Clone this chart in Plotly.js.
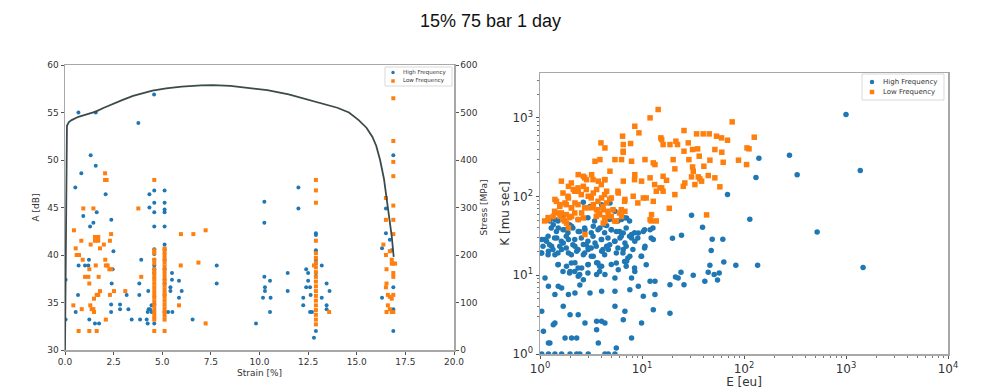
<!DOCTYPE html>
<html>
<head>
<meta charset="utf-8">
<script src="https://cdn.plot.ly/plotly-3.0.1.min.js"></script>
<style>html,body{margin:0;padding:0;background:#fff;}#chart{width:981px;height:389px;}</style>
</head>
<body>
<div id="chart"></div>
<script>
// ---------- Left chart: amplitude vs strain ----------
const hfStrain = [0.03,0.03,0.69,1.58,4.58,3.77,1.32,1.58,0.84,0.53,0.94,1.63,1.46,1.29,2.09,2.38,2.49,0.70,1.03,1.20,1.23,2.45,2.40,0.67,0.55,1.25,1.54,1.75,2.37,2.37,2.83,2.83,3.17,3.26,3.43,3.86,3.82,3.82,3.92,4.20,4.25,4.30,4.25,4.28,4.34,4.34,
  4.59,4.59,4.59,4.59,4.59,4.59,4.59,4.59,4.59,4.59,4.59,4.59,4.45,4.37,4.45,
  5.12,5.12,5.12,5.12,5.12,5.12,5.12,5.12,5.12,5.12,5.12,5.12,5.12,
  5.30,5.52,5.42,5.50,5.50,5.42,5.86,5.86,6.00,6.56,7.80,7.80,9.82,10.25,10.25,10.25,10.28,10.28,10.54,10.18,10.57,10.54,11.45,11.45,12.00,12.00,12.25,12.25,12.40,12.50,12.50,12.40,12.60,12.63,12.60,12.70,12.80,
  12.90,12.90,12.90,12.90,12.90,12.90,12.90,12.90,13.20,13.20,13.45,13.60,13.45,13.45,16.30,16.30,16.50,16.50,16.70,16.80,16.88,16.88,16.88,16.88];
const hfAmp = [37.4,33.2,55.0,55.0,56.9,53.9,50.5,49.4,48.6,47.1,44.1,44.5,43.4,43.0,46.4,43.7,40.4,38.9,38.9,38.9,39.5,38.5,37.0,35.8,34.0,33.2,32.8,32.8,34.8,34.0,34.8,34.3,35.8,34.3,33.2,33.2,37.0,35.8,39.5,33.2,32.8,34.3,34.0,36.2,45.0,46.4,
  46.8,45.5,44.5,43.0,40.6,40.1,39.5,38.9,38.5,38.1,34.8,32.8,34.7,34.3,34.0,
  46.8,45.5,44.8,44.5,43.0,41.1,40.6,39.5,38.5,37.4,37.0,35.8,34.0,
  34.0,34.0,36.6,38.1,37.4,36.2,37.3,35.5,36.2,33.2,38.9,37.0,32.8,45.6,43.4,37.7,36.6,36.2,37.3,35.5,35.5,34.0,38.1,36.2,47.1,44.9,35.5,34.7,38.5,38.1,37.3,36.6,36.6,35.8,34.0,34.0,31.3,
  42.3,42.1,40.5,40.4,39.5,39.1,38.1,32.0,38.9,35.5,37.0,36.2,34.7,34.3,35.5,40.7,44.9,42.3,41.6,40.5,50.5,36.6,34.3,32.0];

const lfStrain = [0.46,0.43,0.55,0.60,0.72,0.70,0.84,0.91,0.94,0.86,1.03,1.20,1.25,1.25,1.25,1.32,1.30,1.37,1.46,1.49,1.46,1.49,1.63,1.71,1.54,1.71,1.54,1.71,1.58,1.63,1.73,1.80,1.80,2.06,2.06,2.14,2.00,2.07,2.10,2.19,2.28,2.10,2.37,2.31,2.37,2.31,2.52,3.10,3.77,3.92,
  4.59,4.59,4.59,4.59,4.59,4.59,4.59,4.59,4.59,4.59,4.59,4.59,4.59,4.59,4.59,4.59,4.59,4.59,4.59,4.59,4.59,
  5.12,5.12,5.12,5.12,5.12,5.12,5.12,5.12,5.12,5.12,5.12,5.12,5.12,5.12,5.12,5.12,5.12,5.12,5.12,5.12,5.12,
  5.96,6.60,7.23,6.86,5.95,5.86,7.23,
  12.9,12.9,12.9,12.9,12.9,12.9,12.9,12.9,12.9,12.9,12.9,12.9,12.9,12.9,12.9,12.9,12.9,12.9,12.9,12.9,
  12.8,13.58,
  16.88,16.88,16.88,16.88,16.88,16.88,16.88,16.88,16.88,16.88,16.88,
  16.5,16.5,16.37,16.5,16.7,16.8,16.88,16.8,16.97,16.53,16.53,16.5,16.6,16.7,16.8,16.6,16.7,16.53,16.8];
const lfAmp = [42.6,34.7,40.7,40.0,40.0,32.0,41.5,39.5,44.9,34.3,37.7,37.7,37.0,32.0,38.5,41.1,34.7,34.3,34.3,34.0,44.9,35.4,35.8,35.8,41.9,41.9,41.5,41.5,38.9,32.0,37.7,40.7,36.2,48.6,47.9,47.9,41.1,39.5,38.9,38.9,38.5,33.2,42.2,41.5,38.5,35.8,36.2,36.2,44.9,37.7,
  47.9,40.5,40.2,39.5,39.1,38.5,38.1,37.7,37.4,37.0,36.6,36.2,35.8,35.5,35.1,34.7,34.3,33.9,33.5,33.2,32.0,
  40.7,40.3,40.0,39.6,39.2,38.8,38.4,38.0,37.6,37.2,36.8,36.4,36.0,35.6,35.2,34.8,34.4,34.0,33.6,33.2,32.0,
  42.2,42.2,42.6,39.2,38.9,34.7,32.8,
  47.9,46.8,45.5,41.5,40.2,39.7,39.2,38.7,38.2,37.7,37.2,36.7,36.2,35.7,35.2,34.7,34.2,33.7,33.2,32.7,
  38.9,34.0,
  56.5,52.0,49.8,48.3,45.2,43.7,42.2,38.1,37.7,35.8,34.0,
  46.0,43.7,41.1,40.0,40.4,39.5,39.1,39.1,39.1,38.5,37.0,36.6,35.8,35.6,35.4,34.7,34.3,34.0,34.0];

const curveStrain = [0,0.03,0.06,0.10,0.20,0.34,0.69,1.0,1.58,2.0,2.5,3.0,3.5,4.0,4.5,5.2,6.0,7.0,7.6,8.5,9.5,10.4,11.5,12.9,14.0,14.6,15.1,15.5,15.8,16.0,16.2,16.4,16.6,16.8,16.9];
const curveStress = [0,200,420,472,480,484,491,495,502,510,519,527,535,541,546,551,554.5,557,557.5,556,552,547,538,523,510,500,484,468,449,430,400,360,300,239,196];

// ---------- Right chart: K vs E ----------
const hfE = [2.66,3.09,4.02,4.85,5.43,6.3,7.06,1.40,1.25,1.35,1.51,1.76,2.04,2.37,2.76,3.33,3.87,4.5,5.0,5.6,6.55,7.9,9.2,10.3,12.0,
  1.04,1.16,1.30,1.46,1.69,1.90,2.2,2.66,2.97,3.46,4.02,4.5,5.43,6.08,6.8,7.9,8.5,10.7,12.9,
  1.04,1.21,1.40,1.63,1.90,2.29,2.66,2.97,3.33,4.02,4.67,5.6,6.55,7.6,9.9,
  1.51,1.82,1.97,2.2,2.56,2.97,3.59,4.02,5.0,5.85,7.06,8.5,
  1.12,1.21,2.37,2.66,2.46,3.59,4.33,5.43,7.9,12.0,13.4,
  1.51,1.63,1.40,1.90,2.2,3.09,4.02,5.43,7.6,9.2,10.3,13.4,
  1.04,1.69,1.97,2.37,2.76,3.59,4.02,4.33,5.43,6.55,6.8,9.9,12.9,
  1.08,1.35,1.40,1.25,1.21,1.76,2.04,2.29,3.59,3.73,5.6,7.9,
  1.04,1.21,1.40,1.63,1.97,2.29,2.46,2.97,4.33,4.67,5.43,
  140,279,332,131,68.9,30.6,39.2,114,521,19.9,24.4,48.8,62,47.7,46.3,63.4,83.2,136,24.1,21.3,22.6,31.8,44.6,51,57.1,55,18.8,25.8,41.3,
  18.8,1000,1380,1470,
  1.50,1.68,1.95,2.36,2.95,3.43,4.30,4.82,5.81,6.75,7.55,
  1.29,1.45,1.68,1.88,2.10,2.45,2.74,3.18,3.70,4.30,5.0,6.03,7.0,8.45,10.6,12.8,
  1.11,1.20,1.39,1.62,1.81,2.19,2.54,2.95,3.31,3.99,4.64,5.39,6.26,7.55,9.1,12.3,
  1.07,1.24,1.34,1.56,1.81,2.10,2.36,2.84,3.18,3.56,4.14,4.82,5.81,7.0,8.14,10.6,
  1.03,1.20,1.50,2.03,2.74,3.18,4.30,6.5,7.27,9.8,
  1.50,2.03,2.36,2.95,3.70,3.84,5.6,6.75,7.0,8.45,11.0,
  1.68,1.95,2.19,2.45,2.95,3.84];
const hfK = [84.7,75,79,83,65,51,53.5,51,49,44,40,38,42,36,38,42,40,43,38,36,34.5,33,34.5,36,38,
  28.4,27,23.4,29.8,25.7,28.4,23.4,24.6,22.3,25.7,28.4,23.4,27,29.8,25.7,29.8,27,23.4,28.4,
  19.2,20.2,18.3,21.2,19.2,20.2,18.3,21.2,17.4,20.2,21.2,19.2,21.2,17.4,17.4,
  13.7,13.0,11.2,14.4,12.4,13.7,14.4,13.0,13.7,11.8,15.1,11.2,
  9.25,7.25,9.7,8.8,7.5,10.2,10.2,9.25,9.25,8.4,8.4,
  7.25,6.9,5.7,5.7,5.96,5.96,6.26,6.26,6.57,7.25,5.4,5.7,
  3.49,4.04,3.16,3.16,2.48,2.6,2.6,2.48,4.04,2.73,3.49,2.48,3.66,
  1.94,2.36,2.48,1.38,1.38,1.6,1.6,1.6,2.04,1.38,1.19,1.6,
  1,1,1,1,1,1,1,1,1,1,1,
  307,335,190,175,106,58,40.7,51.5,35.5,29.5,32.2,28.7,28.7,20.6,13.4,14.8,13.4,13.4,10.9,9.5,9.25,10,10.9,10.2,10.7,8.7,7.6,7.6,8.4,
  3.3,1100,215,12.6,
  49,54,44,51,54,49,44,51,49,54,49,
  40,36,38,34.6,40,36,40,34.6,38,34.6,38,36,40,34.6,38,40,
  28.4,31.3,29.8,27,31.3,28.4,29.8,27,31.3,28.4,29.8,27,31.3,31.3,29.8,29.8,
  23.3,24.5,21.2,23.3,22.2,24.5,21.2,24.5,22.2,23.3,21.2,24.5,22.2,23.3,21.2,22.2,
  19.2,18.3,19.2,18.3,19.2,17.4,18.3,19.2,16.6,17.4,
  13.6,14.3,12.4,13.6,14.3,13.0,14.3,15.0,13.0,12.4,13.6,
  11.2,10.7,11.2,10.2,10.7,11.2];

const lfE = [3.46,3.87,5.43,6.3,7.9,10.7,12.9,13.4,6.55,
  2.37,2.66,2.86,3.21,3.73,4.33,4.85,6.55,8.5,9.9,12.0,
  1.9,2.12,2.37,2.66,2.97,3.33,3.59,4.02,4.5,5.0,5.85,6.8,8.2,10.3,12.9,15.0,
  1.40,1.57,1.76,1.9,2.04,2.2,2.56,2.97,3.33,3.59,3.73,4.17,4.5,5.0,5.6,6.8,
  1.21,1.35,1.46,1.57,1.69,1.82,1.9,2.04,2.37,2.66,2.76,4.17,4.33,4.67,6.3,12.0,12.4,
  14.4,12.0,8.5,9.33,6.45,3.96,4.33,6.55,7.73,6.55,15.3,16.1,
  76.6,126,25.8,34.3,39.8,45.6,53.8,60.2,68.9,107,112,15.6,18.8,21.5,22.3,28.4,31.3,35.1,25.8,51.8,60.6,20.2,28.8,36.4,46.3,40.4,31.3,62.5,88.3,106,16.1,17.4,21,30.6,35.6,38.4,44.6,51.8,31.8,25.4,26.3,15.6,16.1,21,33,36.9,58,18.5,43,
  1.62,2.03,2.36,2.74,3.31,3.99,4.30,1.68,1.88,2.19,2.54,2.84,3.18,3.70,4.30,4.82,5.81,6.75,1.45,1.56,1.81,2.03,2.36,2.74,3.31,3.70,4.14,4.64,5.19,
  1.39,1.62,1.81,1.95,2.19,3.56,3.84,4.30,5.39,1.11,1.20,1.74,12.3,13.8,8.45,11.0,13.3,13.8,9.1,6.03,6.26];
const lfK = [281,295,295,295,281,295,268,255,377,
  190,181,164,190,157,164,210,157,190,157,173,
  135,123,117,135,101,111,123,96,117,96,111,92,101,96,87,129,
  92,79,83,96,72,83,62,72,79,68,59,68,83,56,48.5,65,
  51,56,62,56,51,46,40,56,51,53.5,33,46,48.5,56,56,51,59,
  1277,1000,783,645,585,481,415,458,472,366,557,458,
  889,568,690,626,626,626,585,557,520,415,404,531,458,505,458,481,396,404,377,396,366,295,295,326,290,243,238,273,290,255,181,161,225,178,178,157,185,173,210,135,149,129,117,106,142,168,133,71,58.5,
  157,149,129,173,164,142,164,111,101,117,106,123,96,87,106,92,117,87,87,75,79,72,79,72,72,68,75,65,68,
  65,62,59,54,62,56,59,54,49,49,54,49,49,49,164,96,142,117,83,62,68];

const BLUE = '#1f77b4', ORANGE = '#ff7f0e';
const FONT = 'DejaVu Sans, sans-serif';
const LEGEND_LABELS = ['High Frequency', 'Low Frequency'];

const traces = [
  {x: hfStrain, y: hfAmp, type: 'scatter', mode: 'markers', name: LEGEND_LABELS[0], showlegend: false,
   marker: {color: BLUE, size: 4, symbol: 'circle'}, xaxis: 'x', yaxis: 'y'},
  {x: lfStrain, y: lfAmp, type: 'scatter', mode: 'markers', name: LEGEND_LABELS[1], showlegend: false,
   marker: {color: ORANGE, size: 4, symbol: 'square'}, xaxis: 'x', yaxis: 'y'},
  {x: curveStrain, y: curveStress, type: 'scatter', mode: 'lines', showlegend: false,
   line: {color: '#3b4a4a', width: 1.8}, xaxis: 'x', yaxis: 'y2'},
  {x: hfE, y: hfK, type: 'scatter', mode: 'markers', name: LEGEND_LABELS[0], showlegend: false,
   marker: {color: BLUE, size: 5.5, symbol: 'circle'}, xaxis: 'x3', yaxis: 'y3'},
  {x: lfE, y: lfK, type: 'scatter', mode: 'markers', name: LEGEND_LABELS[1], showlegend: false,
   marker: {color: ORANGE, size: 5.5, symbol: 'square'}, xaxis: 'x3', yaxis: 'y3'}
];

// compact legends (matplotlib style) built from shapes + annotations, positioned in pixels
const W = 981, H = 389;
const px = v => v / W, py = v => 1 - v / H;
function legendParts(box, rows, symX, textX, mSize, fSize) {
  const shapes = [{type: 'rect', xref: 'paper', yref: 'paper', x0: px(box[0]), x1: px(box[1]), y0: py(box[3]), y1: py(box[2]),
    line: {color: '#d9d9d9', width: 1}, fillcolor: 'rgba(255,255,255,0.9)', layer: 'above'}];
  const anns = [];
  const cols = [BLUE, ORANGE], types = ['circle', 'rect'];
  rows.forEach((ry, i) => {
    const h = mSize / 2;
    shapes.push({type: types[i], xref: 'paper', yref: 'paper', xsizemode: 'pixel', ysizemode: 'pixel',
      xanchor: px(symX), yanchor: py(ry), x0: -h, x1: h, y0: -h, y1: h,
      fillcolor: cols[i], line: {width: 0}, layer: 'above'});
    anns.push({xref: 'paper', yref: 'paper', x: px(textX), y: py(ry), xanchor: 'left', yanchor: 'middle',
      text: LEGEND_LABELS[i], showarrow: false, font: {size: fSize, color: '#333', family: FONT}});
  });
  return {shapes, anns};
}
const legL = legendParts([385, 452, 67, 86], [72.5, 81], 393, 401, 3.5, 5.5);
const legR = legendParts([862, 944, 74, 100], [82, 92], 872, 881, 4.5, 7);

const axLine = {showline: true, linecolor: '#a8a8a8', linewidth: 1.5, mirror: false, ticks: 'outside',
  ticklen: 3, tickcolor: '#555', showgrid: false, zeroline: false};
const minorLog = [2,3,4,5,6,7,8,9,20,30,40,50,60,70,80,90,200,300,400,500,600,700,800,900,2000,3000,4000,5000,6000,7000,8000,9000];

const layout = {
  width: W, height: H,
  margin: {l: 0, r: 0, t: 0, b: 0},
  paper_bgcolor: '#fff', plot_bgcolor: '#fff',
  font: {family: FONT, color: '#222'},
  showlegend: false,
  title: {text: '15% 75 bar 1 day', font: {family: 'Liberation Sans, Arial, sans-serif', size: 18, color: '#111'},
          x: 0.5, xanchor: 'center', y: 0.948, yanchor: 'middle'},
  xaxis: Object.assign({}, axLine, {domain: [65/W, 454/W], range: [0, 20], dtick: 2.5, tickformat: '.1f',
    anchor: 'y', mirror: true, tickfont: {size: 9, color: '#333'},
    title: {text: 'Strain [%]', font: {size: 9, color: '#333'}, standoff: 3}}),
  yaxis: Object.assign({}, axLine, {domain: [39/H, 324/H], range: [30, 60], dtick: 5,
    anchor: 'x', tickfont: {size: 9, color: '#333'},
    title: {text: 'A [dB]', font: {size: 9, color: '#333'}, standoff: 6}}),
  yaxis2: Object.assign({}, axLine, {overlaying: 'y', side: 'right', anchor: 'x', range: [0, 600], dtick: 100,
    tickfont: {size: 9, color: '#333'},
    title: {text: 'Stress [MPa]', font: {size: 9, color: '#333'}, standoff: 4}}),
  xaxis3: Object.assign({}, axLine, {domain: [540/W, 948/W], type: 'log', range: [0, 4], anchor: 'y3', mirror: true,
    tickvals: [1, 10, 100, 1000, 10000],
    ticktext: ['10<sup>0</sup>', '10<sup>1</sup>', '10<sup>2</sup>', '10<sup>3</sup>', '10<sup>4</sup>'],
    tickfont: {size: 12, color: '#333'},
    minor: {ticks: 'outside', ticklen: 2, tickcolor: '#777', tickvals: minorLog},
    title: {text: 'E [eu]', font: {size: 12, color: '#333'}, standoff: 0}}),
  yaxis3: Object.assign({}, axLine, {domain: [35/H, 316/H], type: 'log', range: [0, 3.57], anchor: 'x3', mirror: true,
    tickvals: [1, 10, 100, 1000],
    ticktext: ['10<sup>0</sup>', '10<sup>1</sup>', '10<sup>2</sup>', '10<sup>3</sup>'],
    tickfont: {size: 12, color: '#333'},
    minor: {ticks: 'outside', ticklen: 2, tickcolor: '#777', tickvals: minorLog},
    title: {text: 'K [mu sec]', font: {size: 12, color: '#333'}, standoff: 0}}),
  shapes: legL.shapes.concat(legR.shapes),
  annotations: legL.anns.concat(legR.anns)
};

Plotly.newPlot('chart', traces, layout, {displayModeBar: false, staticPlot: true});
</script>
</body>
</html>
